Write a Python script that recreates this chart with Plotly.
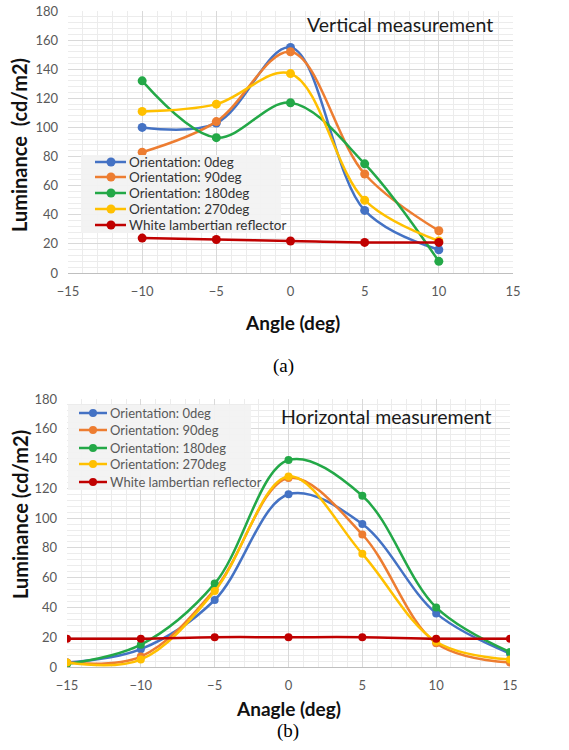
import plotly.graph_objects as go

# the page body margin is removed (see write_html below), so figure == window
OFF = 0
FW, FH = 569, 750

# ---------------- data ----------------
series_names = ["Orientation: 0deg", "Orientation: 90deg", "Orientation: 180deg",
                "Orientation: 270deg", "White lambertian reflector"]
colors = ["#4472C4", "#ED7D31", "#23A847", "#FFC000", "#C00000"]

v_angles = [-10, -5, 0, 5, 10]
v_0deg = [100, 103, 155, 43, 16]
v_90deg = [83, 104, 152, 68, 29]
v_180deg = [132, 93, 117, 75, 8]
v_270deg = [111, 116, 137, 50, 22]
v_reflector = [24, 23, 22, 21, 21]

h_angles = [-15, -10, -5, 0, 5, 10, 15]
h_0deg = [3, 12, 45, 116, 96, 36, 9]
h_90deg = [3, 7, 52, 127, 89, 16, 3]
h_180deg = [2, 15, 56, 139, 115, 40, 10]
h_270deg = [3, 5, 51, 128, 76, 17, 5]
h_reflector = [19, 19, 20, 20, 20, 19, 19]

x_ticks = [-15, -10, -5, 0, 5, 10, 15]
y_ticks = [0, 20, 40, 60, 80, 100, 120, 140, 160, 180]

v_series = [v_0deg, v_90deg, v_180deg, v_270deg, v_reflector]
h_series = [h_0deg, h_90deg, h_180deg, h_270deg, h_reflector]


def px(x):
    return (x - OFF) / FW


def py(y):
    return 1 - (y - OFF) / FH


FONT = "Lato"
fig = go.Figure()

for name, col, ys in zip(series_names, colors, v_series):
    fig.add_trace(go.Scatter(
        x=v_angles, y=ys, name=name, mode="lines+markers",
        line=dict(color=col, width=2.5, shape="spline", smoothing=1),
        marker=dict(color=col, size=9),
        xaxis="x", yaxis="y", showlegend=False))

for name, col, ys in zip(series_names, colors, h_series):
    fig.add_trace(go.Scatter(
        x=h_angles, y=ys, name=name, mode="lines+markers",
        line=dict(color=col, width=2.5, shape="spline", smoothing=1),
        marker=dict(color=col, size=8),
        xaxis="x2", yaxis="y2", showlegend=False))

tickfont = dict(family=FONT, size=13, color="#595959")
major = "#d9d9d9"
minor = "#ececec"


def xaxis(domain, anchor):
    return dict(domain=domain, anchor=anchor, range=[-15, 15], tickvals=x_ticks,
                showgrid=True, gridcolor=major, gridwidth=1,
                minor=dict(dtick=1, showgrid=True, gridcolor=minor, gridwidth=1),
                zeroline=False, showline=True, linecolor="#bfbfbf", linewidth=1,
                ticks="", tickfont=tickfont, ticklabelstandoff=6,
                ticklabeloverflow="allow", automargin=False, fixedrange=True)


def yaxis(domain, anchor):
    return dict(domain=domain, anchor=anchor, range=[0, 180], tickvals=y_ticks,
                showgrid=True, gridcolor=major, gridwidth=1,
                minor=dict(dtick=4, showgrid=True, gridcolor=minor, gridwidth=1),
                zeroline=False, showline=False, ticks="", tickfont=tickfont,
                ticklabelstandoff=9, ticklabeloverflow="allow",
                automargin=False, fixedrange=True)


def text(t, x, y, size, family=FONT, color="#111111", angle=0, xanchor="center"):
    return dict(text=t, x=px(x), y=py(y), xref="paper", yref="paper", showarrow=False,
                xanchor=xanchor, yanchor="middle", textangle=angle,
                font=dict(family=family, size=size, color=color))


annotations = [
    text("Vertical measurement", 400, 25, 19.5, color="#1a1a1a"),
    text("Horizontal measurement", 386, 416, 19.5, color="#1a1a1a"),
    text("<b>Angle (deg)</b>", 292, 322, 19),
    text("<b>Anagle (deg)</b>", 288, 708, 19),
    text("<b>Luminance  (cd/m2)</b>", 19, 145, 20, angle=-90),
    text("<b>Luminance (cd/m2)</b>", 20, 515, 20, angle=-90),
    text("(a)", 283, 366, 19, family="Liberation Serif", color="#000000"),
    text("(b)", 288, 731, 19, family="Liberation Serif", color="#000000"),
]
shapes = []


def legend(box, line_x, marker_x, text_x, rows, size, tcolor, msize):
    x0, y0, x1, y1 = box
    shapes.append(dict(type="rect", xref="paper", yref="paper", layer="above",
                       x0=px(x0), x1=px(x1), y0=py(y1), y1=py(y0),
                       fillcolor="rgba(242,242,242,0.95)", line=dict(width=0)))
    for name, col, ry in zip(series_names, colors, rows):
        shapes.append(dict(type="line", xref="paper", yref="paper", layer="above",
                           x0=px(line_x[0]), x1=px(line_x[1]), y0=py(ry), y1=py(ry),
                           line=dict(color=col, width=2.5)))
        r = msize / 2
        shapes.append(dict(type="circle", xref="paper", yref="paper", layer="above",
                           x0=px(marker_x - r), x1=px(marker_x + r),
                           y0=py(ry + r), y1=py(ry - r),
                           fillcolor=col, line=dict(color=col, width=0)))
        annotations.append(text(name, text_x, ry, size, color=tcolor, xanchor="left"))


legend((81, 155, 281, 233), (95, 126), 111, 127, [162, 177, 193, 209, 225],
       13.5, "#333333", 9)
legend((68, 405, 251, 490), (79, 107), 93, 108, [413, 430, 448, 464, 482],
       13, "#595959", 8)

fig.update_layout(
    width=FW, height=FH, margin=dict(l=0, r=0, t=0, b=0),
    paper_bgcolor="white", plot_bgcolor="white", showlegend=False,
    hovermode=False,
    xaxis=xaxis([px(68), px(513)], "y"),
    yaxis=yaxis([py(273), py(11)], "x"),
    xaxis2=xaxis([px(67), px(510)], "y2"),
    yaxis2=yaxis([py(667), py(399)], "x2"),
    annotations=annotations,
    shapes=shapes,
)

fig.write_html("out.html", config={"displayModeBar": False, "staticPlot": True},
               post_script="document.body.style.margin='0';document.body.style.overflow='hidden';")
